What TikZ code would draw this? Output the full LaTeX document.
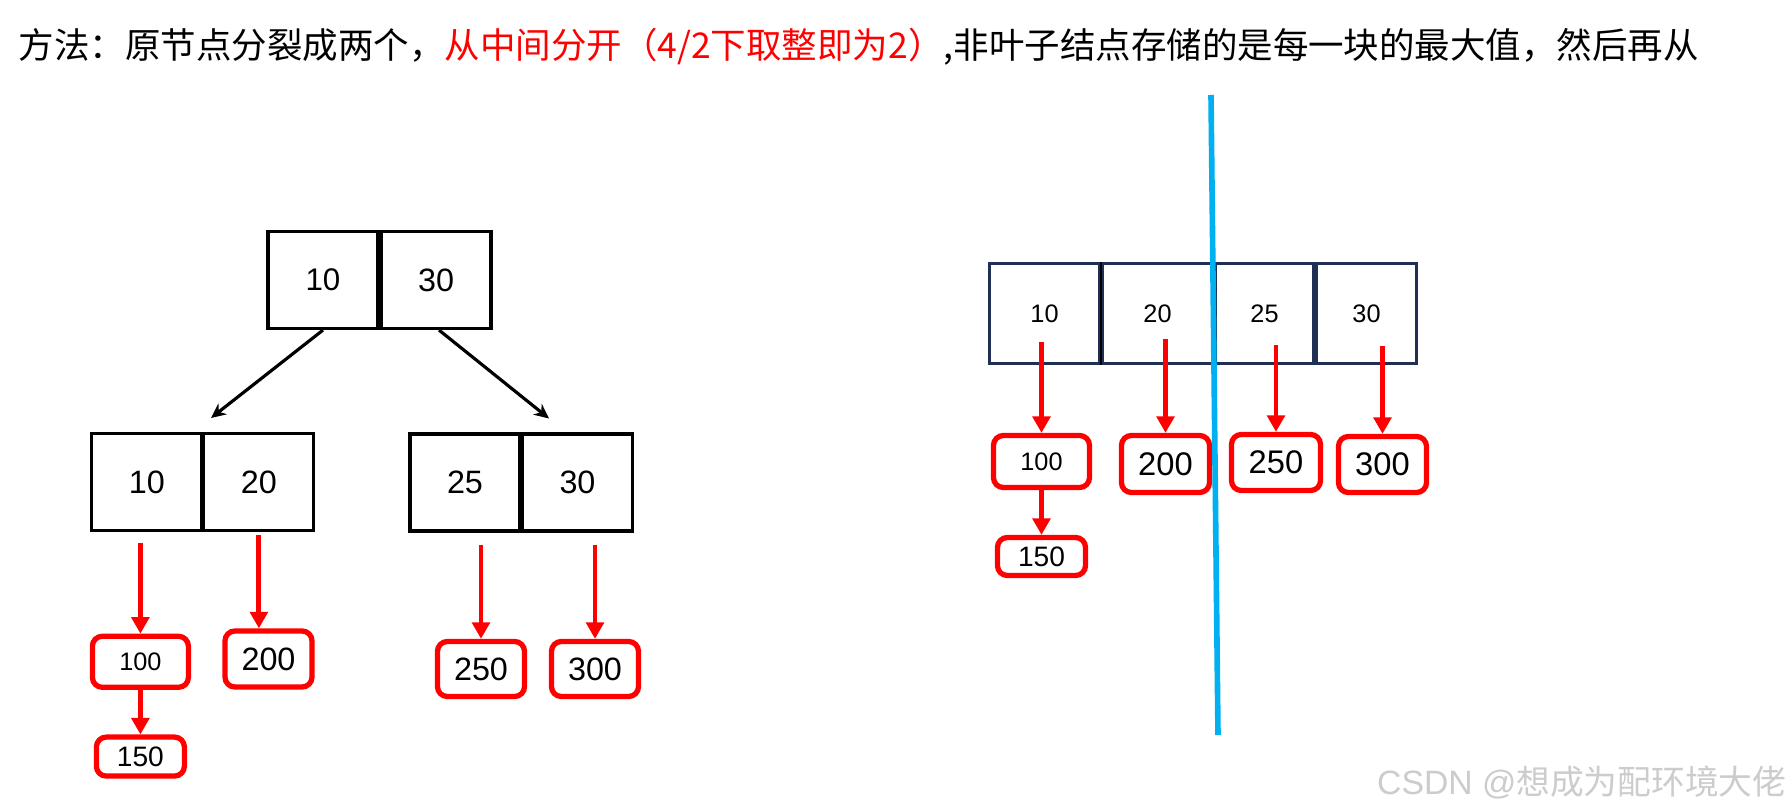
\documentclass[tikz,border=0pt]{standalone}
\usepackage{fontspec}
\setmainfont{Liberation Sans}
\newfontfamily\cjk{Noto Sans CJK SC}
\usetikzlibrary{arrows.meta}
\definecolor{BTRed}{RGB}{255,0,0}
\definecolor{BTNavy}{RGB}{31,48,84}
\definecolor{BTBlue}{RGB}{0,176,240}
\newcommand{\fsz}[1]{\fontsize{#1}{#1}\selectfont}

\begin{document}
\begin{tikzpicture}[
          cell/.style={rectangle, draw=black, line width=0.9pt, inner sep=0pt,
                       minimum width=1.10cm, minimum height=0.97cm, font=\fsz{9.2pt}},
          wcell/.style={rectangle, draw=BTNavy, line width=0.95pt, inner sep=0pt,
                        minimum height=0.997cm, font=\fsz{7.2pt}},
          leaf/.style={rectangle, rounded corners=2.8pt, draw=BTRed,
                       line width=1.5pt, inner sep=0pt},
          arr/.style={-{Stealth[length=4.2pt, width=3.9pt]}, line width=0.9pt},
          rarr/.style={-{Triangle[length=4.7pt, width=5pt]}, draw=BTRed,
                       line width=1.4pt}
        ]
        \fill[white] (0,0) rectangle (17.92,-8.12);

        % heading
        \node[anchor=west, inner sep=0pt, font=\cjk\fsz{10.1pt}]
              (title) at (0.18,-0.47)
              {方法：原节点分裂成两个，\textcolor{BTRed}{从中间分开（4/2下取整即为2）},非叶子结点存储的是每一块的最大值，然后再从};

        % root
        \node[cell, font=\fsz{8.9pt}] (r10) at (3.23,-2.80) {10};
        \node[cell] (r30) at (4.36,-2.80) {30};

        % left child
        \node[cell] (l10) at (1.469,-4.82) {10};
        \node[cell] (l20) at (2.589,-4.82) {20};

        % right child
        \node[cell] (q25) at (4.65,-4.825) {25};
        \node[cell] (q30) at (5.775,-4.825) {30};

        % root -> children
        \coordinate (lend) at (2.11,-4.18);
        \coordinate (rend) at (5.49,-4.185);
        \draw[arr] (r10.south) -- (lend);
        \draw[arr] ([xshift=0.03cm]r30.south) -- (rend);

        % left leaves
        \node[leaf, minimum width=0.96cm, minimum height=0.51cm, font=\fsz{7.2pt}]
              (b100) at (1.404,-6.618) {100};
        \node[leaf, minimum width=0.87cm, minimum height=0.56cm, font=\fsz{9.2pt}]
              (b200) at (2.685,-6.59) {200};
        \node[leaf, minimum width=0.88cm, minimum height=0.39cm, font=\fsz{8pt}]
              (b150) at (1.404,-7.566) {150};
        \node[leaf, minimum width=0.87cm, minimum height=0.55cm, font=\fsz{9.2pt}]
              (b250) at (4.81,-6.69) {250};
        \node[leaf, minimum width=0.87cm, minimum height=0.55cm, font=\fsz{9.2pt}]
              (b300) at (5.95,-6.69) {300};

        \draw[rarr] ([yshift=-0.105cm]l10.south -| b100.north) -- (b100.north);
        \draw[rarr] ([yshift=-0.03cm]l20.south) -- (l20.south |- b200.north);
        \draw[rarr] ([yshift=-0.12cm]q25.south -| b250.north) -- (b250.north);
        \draw[rarr] ([yshift=-0.12cm]q30.south -| b300.north) -- (b300.north);
        \draw[rarr] (b100.south) -- (b150.north);

        % full node before the split
        \node[wcell, minimum width=1.097cm] (w10) at (10.445,-3.135) {10};
        \node[wcell, minimum width=1.097cm] (w20) at (11.575,-3.135) {20};
        \node[wcell, minimum width=0.977cm] (w25) at (12.645,-3.135) {25};
        \node[wcell, minimum width=0.997cm] (w30) at (13.665,-3.135) {30};
        \draw[line width=0.8pt] (w10.north east) -- (w10.south east);

        % right leaves
        \node[leaf, minimum width=0.96cm, minimum height=0.52cm, font=\fsz{7.2pt}]
              (c100) at (10.415,-4.615) {100};
        \node[leaf, minimum width=0.88cm, minimum height=0.57cm, font=\fsz{9.3pt}]
              (c200) at (11.655,-4.64) {200};
        \node[leaf, minimum width=0.89cm, minimum height=0.56cm, font=\fsz{9.3pt}]
              (c250) at (12.76,-4.625) {250};
        \node[leaf, minimum width=0.88cm, minimum height=0.56cm, font=\fsz{9.3pt}]
              (c300) at (13.825,-4.645) {300};
        \node[leaf, minimum width=0.88cm, minimum height=0.38cm, font=\fsz{8pt}]
              (c150) at (10.415,-5.565) {150};

        \draw[rarr] ([yshift=0.23cm]w10.south -| c100.north) -- (c100.north);
        \draw[rarr] ([yshift=0.26cm]w20.south -| c200.north) -- (c200.north);
        \draw[rarr] ([yshift=0.20cm]w25.south -| c250.north) -- (c250.north);
        \draw[rarr] ([yshift=0.19cm]w30.south -| c300.north) -- (c300.north);
        \draw[rarr] (c100.south) -- (c150.north);

        % split line
        \coordinate (cuttop) at (12.11,-0.95);
        \coordinate (cutbot) at (12.18,-7.35);
        \draw[BTBlue, line width=1.6pt] (cuttop) -- (cutbot);

        % watermark
        \node[anchor=east, inner sep=0pt, text=black!20, font=\fsz{9.6pt}]
              (mark) at (17.87,-7.83) {CSDN @{\cjk 想成为配环境大佬}};
      \end{tikzpicture}
\end{document}
